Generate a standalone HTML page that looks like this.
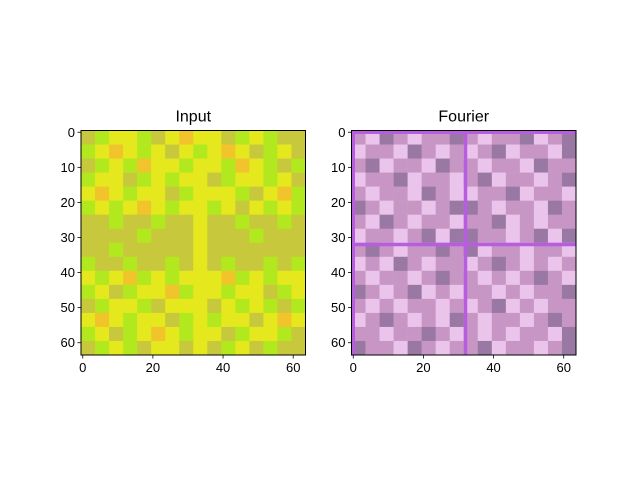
<!DOCTYPE html>
<html><head><meta charset="utf-8"><style>
body{margin:0;background:#fff;width:640px;height:480px;overflow:hidden;font-family:"Liberation Sans",sans-serif}
</style></head><body>
<svg id="fig" width="640" height="480" xmlns="http://www.w3.org/2000/svg"></svg>
<script>
// Coarse 16x16 colour-class grids (each cell = 4x4 image pixels)
const inputRows = [
"xgyygxyoyyxgygxx",
"gyoygyxygyoyxgyx",
"xgygoyygyygoygxg",
"gyyxgygyyxgyygyx",
"yoygyyxgyyygxyog",
"gygyoygyygyxygyg",
"xxgxxgxxyxxgxxgx",
"xxxxgxxxyxxxgxxx",
"xxgxxxxxyxxxxxxx",
"gxxgxxgxyxgxxgxg",
"ygyogygyyyogygyy",
"gyxgyyogyygyyxgy",
"xgyygxyyyxygygxg",
"yoygyyxgygyyxyoy",
"gyxgyoygyyxgyygx",
"xgygxyyxyxgyxgxx"];
const fourierRows = [
"mwdmwmmdmwmmdwmd",
"wmmwdmwmwmdwmmwd",
"mdwmmwdmmwmmwdmm",
"wmmdwmmwmdwmmwmd",
"mwmmwdmwwmmdwmmw",
"dmwmmwmddmwmmwdm",
"mwdmwmmwmmdwmwmm",
"wmmwmdwddmmwmdwd",
"mdmwmmdmdwmmwmmw",
"wmwdmwmmwmdmwmwm",
"mwmmwmdmmwmwmdmw",
"dmwmdwmwmmwmwmmd",
"mwmwmmwmwmdwmwmm",
"wmdmwmwdmwmmwmdm",
"mmwmmdmwmwmwmmwd",
"dmmwdmwmmdwmmwmd"];
const fourierLineIndex = [0, 32];
const xTickLabels = [0, 20, 40, 60];
const yTickLabels = [0, 10, 20, 30, 40, 50, 60];
const palette = {y:"#e4e81c", g:"#b2e81e", o:"#f0c42a", x:"#c8c83c", w:"#eac4ea", m:"#c896c4", d:"#9a78a4"};

const svg = document.getElementById('fig');
const NS = "http://www.w3.org/2000/svg";
function mk(tag, attrs, parent){const e=document.createElementNS(NS,tag);for(const k in attrs)e.setAttribute(k,attrs[k]);(parent||svg).appendChild(e);return e;}
const NCELLS = 64, SIZE = 224.5, topY = 130.5;
function drawPanel(x0, rows, title, name, lines){
  const g = mk('g', {});
  
  
  const cs = SIZE / NCELLS;
  const sx = i => x0 + i * cs, sy = j => topY + j * cs;
  rows.forEach((row, r) => {
    [...row].forEach((c, col) => {
      const cell = mk('rect', {x: sx(col*4), y: sy(r*4), width: cs*4+0.3, height: cs*4+0.3, fill: palette[c]}, g);
      
      
    });
  });
  if (lines) lines.forEach(k => {
    const h = mk('rect', {x: sx(0), y: sy(k), width: SIZE, height: cs, fill: "#b75ee0"}, g);
    
    
    const v = mk('rect', {x: sx(k), y: sy(0), width: cs, height: SIZE, fill: "#b75ee0"}, g);
    
    
  });
  const fr = mk('rect', {x: x0, y: topY, width: SIZE, height: SIZE, fill: 'none', stroke: '#000', 'stroke-width': 1}, g);
  
  
  xTickLabels.forEach(v => {
    const x = sx(v + 0.5);
    mk('line', {x1: x, x2: x, y1: topY+SIZE, y2: topY+SIZE+3.5, stroke: '#000', 'stroke-width': 0.8}, g);
    const t = mk('text', {x: x, y: topY+SIZE+17, 'font-size': 13, 'text-anchor': 'middle', fill: '#000'}, g);
    t.textContent = v;
    
    
  });
  yTickLabels.forEach(v => {
    const y = sy(v + 0.5);
    mk('line', {x1: x0-3.5, x2: x0, y1: y, y2: y, stroke: '#000', 'stroke-width': 0.8}, g);
    const t = mk('text', {x: x0-6, y: y+4.5, 'font-size': 13, 'text-anchor': 'end', fill: '#000'}, g);
    t.textContent = v;
    
    
  });
  const tt = mk('text', {x: x0+SIZE/2, y: topY-9, 'font-size': 16, 'text-anchor': 'middle', fill: '#000'}, g);
  tt.textContent = title;
  
  
}
drawPanel(81, inputRows, 'Input', 'input', null);
drawPanel(351.5, fourierRows, 'Fourier', 'fourier', fourierLineIndex);
</script>
</body></html>
